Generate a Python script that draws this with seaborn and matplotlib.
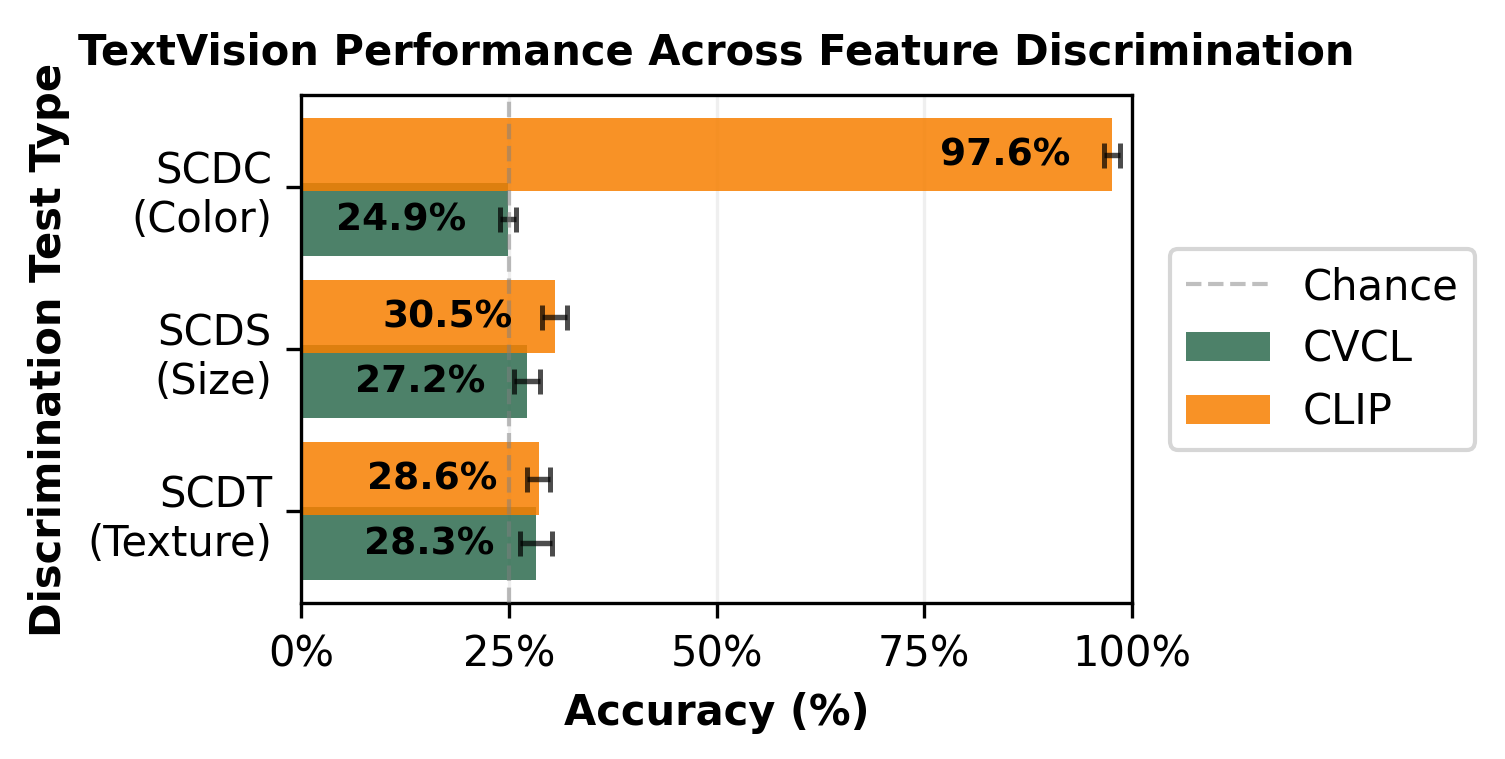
import numpy as np
import pandas as pd
import matplotlib
matplotlib.use("Agg")
import matplotlib.pyplot as plt
import seaborn as sns
from matplotlib.ticker import PercentFormatter

# ------------------------------
# 1. Data
# ------------------------------
tests = ["SCDC\n(Color)", "SCDS\n(Size)", "SCDT\n(Texture)"]
cvcl_acc = [24.9, 27.2, 28.3]
cvcl_err = [1.0, 1.6, 1.9]
clip_acc = [97.6, 30.5, 28.6]
clip_err = [1.0, 1.5, 1.4]
chance_level = 25
x_ticks = [0, 25, 50, 75, 100]

# ------------------------------
# 2. Styling
# ------------------------------
sns.set_style("ticks", {"axes.edgecolor": "black", "text.color": "black",
                        "axes.labelcolor": "black", "xtick.color": "black",
                        "ytick.color": "black"})
plt.rcParams["font.family"] = ["DejaVu Sans"]

cvcl_color = "#2E6B4F"
clip_color = "#F77F00"
bar_h = 0.45
offset = 0.2

fig, ax = plt.subplots(figsize=(5.02, 2.533), dpi=300)
fig.subplots_adjust(left=0.1999, right=0.7517, top=0.8737, bottom=0.2053)

y = np.arange(len(tests))

# chance line first so it sits first in the legend
ax.axvline(chance_level, color="gray", linestyle="--", linewidth=1, alpha=0.5,
           label="Chance", zorder=3)

err_kw = dict(ecolor="black", alpha=0.7, elinewidth=1.3, capsize=3, capthick=1.2)
ax.barh(y + offset, cvcl_acc, height=bar_h, color=cvcl_color, alpha=0.85,
        linewidth=0, xerr=cvcl_err, error_kw=err_kw, label="CVCL")
ax.barh(y - offset, clip_acc, height=bar_h, color=clip_color, alpha=0.85,
        linewidth=0, xerr=clip_err, error_kw=err_kw, label="CLIP")

# value labels inside the bars
for yi, v in zip(y + offset, cvcl_acc):
    ax.text(v - 5, yi, f"{v:.1f}%", ha="right", va="center",
            fontsize=9, fontweight="bold", color="black")
for yi, v in zip(y - offset, clip_acc):
    ax.text(v - 5, yi, f"{v:.1f}%", ha="right", va="center",
            fontsize=9, fontweight="bold", color="black")

ax.set_yticks(y)
ax.set_yticklabels(tests, fontsize=10)
ax.invert_yaxis()
ax.set_xlim(0, 100)
ax.set_xticks(x_ticks)
ax.xaxis.set_major_formatter(PercentFormatter(decimals=0))
ax.tick_params(axis="x", labelsize=10)
ax.grid(axis="x", alpha=0.3)
ax.set_axisbelow(True)

ax.set_xlabel("Accuracy (%)", fontsize=10, fontweight="bold")
ax.set_ylabel("Discrimination Test Type", fontsize=10, fontweight="bold")
ax.set_title("TextVision Performance Across Feature Discrimination",
             fontsize=10, fontweight="bold", pad=7.5)

ax.legend(loc="center left", bbox_to_anchor=(1.02, 0.5), fontsize=10)

fig.savefig("out.png", dpi=300)
